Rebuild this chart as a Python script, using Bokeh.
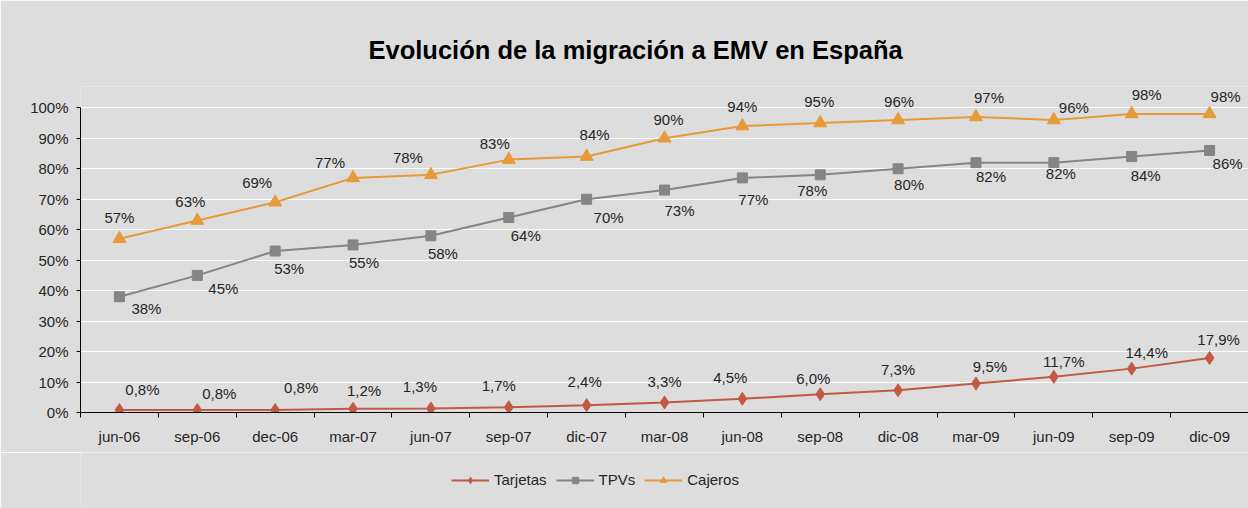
from bokeh.plotting import figure
from bokeh.layouts import column
from bokeh.models import ColumnDataSource, FixedTicker, Legend, LegendItem, Range1d
from bokeh.core.properties import value
from bokeh.embed import file_html
from bokeh.resources import INLINE

# ---- data ----
categories = ["jun-06", "sep-06", "dec-06", "mar-07", "jun-07", "sep-07", "dic-07",
              "mar-08", "jun-08", "sep-08", "dic-08", "mar-09", "jun-09", "sep-09", "dic-09"]
tarjetas = [0.8, 0.8, 0.8, 1.2, 1.3, 1.7, 2.4, 3.3, 4.5, 6.0, 7.3, 9.5, 11.7, 14.4, 17.9]
tpvs = [38, 45, 53, 55, 58, 64, 70, 73, 77, 78, 80, 82, 82, 84, 86]
cajeros = [57, 63, 69, 77, 78, 83, 84, 90, 94, 95, 96, 97, 96, 98, 98]
y_ticks = [0, 10, 20, 30, 40, 50, 60, 70, 80, 90, 100]
series_names = ["Tarjetas", "TPVs", "Cajeros"]
title_text = "Evolución de la migración a EMV en España"

# ---- label placement (pixel offsets from each point) ----
tar_dx = [23, 22, 26, 11, -11, -10, -2, 0, -12, -7, 0, 14, 10, 15, 9]
tar_dy = [-21, -17, -23, -18, -22, -22, -24, -21, -21, -16, -21, -17, -15, -16, -18]
tpv_dx = [27, 26, 14, 11, 12, 17, 22, 15, 11, -8, 11, 15, 7, 14, 18]
tpv_dy = [12, 13, 17, 18, 18, 18, 18, 20, 22, 16, 16, 14, 11, 19, 13]
caj_dx = [0, -7, -18, -23, -23, -14, 8, 4, 0, -1, 1, 13, 20, 15, 16]
caj_dy = [-21, -19, -20, -15, -17, -16, -22, -19, -20, -22, -19, -19, -13, -19, -17]

FONT = "Liberation Sans"
BG = "#dddddd"
TXT = "#262626"
FS = "15px"

xs = [i + 0.5 for i in range(len(categories))]

def fmt_dec(v):
    return f"{v:.1f}".replace(".", ",") + "%"

def fmt_int(v):
    return f"{v:.0f}%"

p = figure(width=1248, height=452, x_range=Range1d(0, len(categories)), y_range=Range1d(0, 107),
           output_backend="svg", toolbar_location=None,
           background_fill_color=BG, border_fill_color=BG, outline_line_color=None,
           min_border_left=80, min_border_right=0, min_border_top=86, min_border_bottom=40,
           frame_height=326, frame_width=1168)

p.title.text = title_text
p.title.align = "left"
p.title.offset = 288
p.title.text_font = FONT
p.title.text_font_size = "25.5px"
p.title.text_font_style = "bold"
p.title.text_color = "#000000"
p.title.standoff = 46

# axes
p.xaxis.ticker = FixedTicker(ticks=xs, minor_ticks=list(range(len(categories) + 1)))
p.xaxis.major_label_overrides = {x: c for x, c in zip(xs, categories)}
p.xaxis.major_tick_line_color = None
p.xaxis.major_tick_out = 5
p.xaxis.major_tick_in = 0
p.xaxis.minor_tick_out = 5
p.xaxis.minor_tick_in = 0
p.xaxis.minor_tick_line_color = "black"
p.xaxis.axis_line_color = "black"
p.xaxis.major_label_standoff = 10
p.xaxis.major_label_text_font = FONT
p.xaxis.major_label_text_font_size = FS
p.xaxis.major_label_text_color = TXT

p.yaxis.ticker = FixedTicker(ticks=y_ticks)
p.yaxis.bounds = (0, 100)
p.yaxis.major_label_overrides = {t: f"{t}%" for t in y_ticks}
p.yaxis.major_tick_out = 4
p.yaxis.major_tick_in = 0
p.yaxis.minor_tick_line_color = None
p.yaxis.major_tick_line_color = "black"
p.yaxis.axis_line_color = "black"
p.yaxis.major_label_standoff = 8
p.yaxis.major_label_text_font = FONT
p.yaxis.major_label_text_font_size = FS
p.yaxis.major_label_text_color = TXT

p.xgrid.visible = False
p.ygrid.grid_line_color = "white"
p.ygrid.grid_line_width = 1
p.ygrid.bounds = (0, 100)

specs = [
    (tarjetas, "#C05A44", "diamond", 13, [fmt_dec(v) for v in tarjetas], tar_dx, tar_dy),
    (tpvs, "#858585", "square", 10, [fmt_int(v) for v in tpvs], tpv_dx, tpv_dy),
    (cajeros, "#E69A38", "triangle", 13, [fmt_int(v) for v in cajeros], caj_dx, caj_dy),
]

# separate strip below the chart that carries the legend
lg = figure(width=1248, height=56, x_range=Range1d(0, 1), y_range=Range1d(0, 1),
            output_backend="svg", toolbar_location=None,
            x_axis_type=None, y_axis_type=None,
            background_fill_color=BG, border_fill_color=BG, outline_line_color=None,
            min_border=0)
lg.xgrid.visible = False
lg.ygrid.visible = False

items = []
for name, (vals, color, marker, size, labels, dx, dy) in zip(series_names, specs):
    src = ColumnDataSource(dict(x=xs, y=vals, label=labels, dx=dx, dy=dy))
    p.line("x", "y", source=src, line_color=color, line_width=2)
    p.scatter("x", "y", source=src, marker=marker, size=size,
              fill_color=color, line_color=color)
    p.text("x", "y", text="label", x_offset="dx", y_offset="dy", source=src,
           text_align="center", text_baseline="middle",
           text_font=value(FONT), text_font_size=FS, text_color=TXT)
    # legend proxies in the legend strip (kept outside its visible range)
    proxy = ColumnDataSource(dict(x=[-5, -4], y=[-5, -5]))
    ln_k = lg.line("x", "y", source=proxy, line_color=color, line_width=2)
    sc_k = lg.scatter("x", "y", source=proxy, marker=marker, size=size,
                      fill_color=color, line_color=color)
    items.append(LegendItem(label=name, renderers=[ln_k, sc_k]))

legend = Legend(items=items, orientation="horizontal", location=(371, 20),
                border_line_color=None, background_fill_alpha=0,
                glyph_width=38, glyph_height=16, label_standoff=5, spacing=9,
                padding=4, margin=0,
                label_text_font=FONT, label_text_font_size=FS, label_text_color=TXT)
lg.add_layout(legend)

layout = column(p, lg, spacing=0)
open("out.html", "w").write(file_html(layout, INLINE))
